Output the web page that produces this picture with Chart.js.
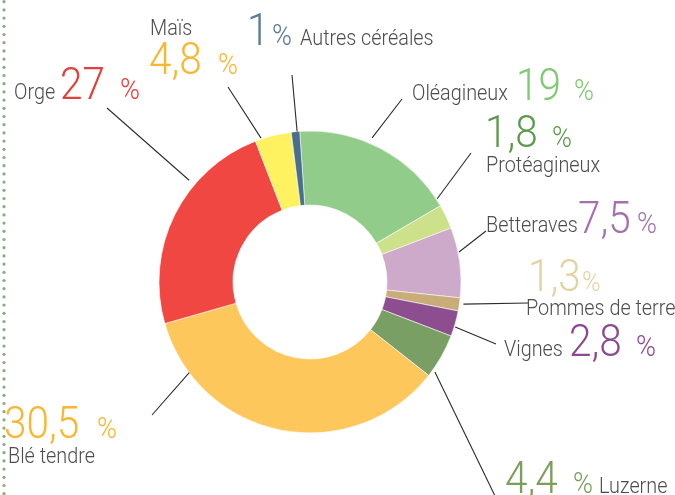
<!DOCTYPE html>
<html>
<head>
<meta charset="utf-8">
<title>Assolement</title>
<script src="https://cdn.jsdelivr.net/npm/chart.js@4.4.1/dist/chart.umd.min.js"></script>
<style>
    html, body { margin: 0; padding: 0; background: #fff; }
    #wrap { width: 675px; height: 495px; }
</style>
</head>
<body>
<div id="wrap"><canvas id="crops" width="675" height="495"></canvas></div>
<script>
'use strict';

// cultures, dans l'ordre horaire depuis le haut
var categories = ['Oléagineux', 'Protéagineux', 'Betteraves', 'Pommes de terre', 'Vignes',
    'Luzerne', 'Blé tendre', 'Orge', 'Maïs', 'Autres céréales'];
// part affichée (texte)
var shownValues = ['19', '1,8', '7,5', '1,3', '2,8', '4,4', '30,5', '27', '4,8', '1'];
var sliceShares = [17.7, 2.6, 7.5, 1.4, 2.75, 4.8, 35, 23.6, 3.9, 0.9];

var sliceColors = ['#92cc8b', '#cde08a', '#cdaac9', '#c9ad78', '#8c4e8f',
    '#7a9f64', '#fec75b', '#f04743', '#fff260', '#4a6f8c'];
var valueColors = ['#7fca72', '#5c9a4c', '#a470b0', '#e2d2a4', '#8b4a8f',
    '#7c9e5c', '#f9b630', '#e2403d', '#f9b630', '#5b7a96'];
var GREY = '#4d4d4d';

// position des textes et des traits de rappel (x, ligne de base)
// ang : angle du départ du trait (degrés, sens horaire depuis le haut), gap : écart au bord
var labelLayout = [
    {ang: 23.3, gap: 6, end: [402, 99], name: [412, 100], val: [516, 100], pct: [574, 100]},
    {ang: 56.8, gap: 1, end: [471, 153], name: [486, 172], val: [485, 147], pct: [552, 147]},
    {ang: 78.6, gap: 1, end: [486, 231], name: [486, 232], val: [578, 233], pct: [637, 233]},
    {ang: 98.2, gap: 4, end: [528, 303], name: [526, 315], val: [528, 291], pct: [582, 291], pctSize: 28},
    {ang: 107.2, gap: 1, end: [496, 344], name: [504, 356], val: [569, 356], pct: [636, 356]},
    {ang: 125.8, gap: 3, end: [497, 500], name: [599, 493], val: [505, 493], pct: [573, 493]},
    {ang: 233.1, gap: 0, end: [152, 415], name: [8, 463], val: [4, 438], pct: [97, 438]},
    {ang: -49.9, gap: 7, end: [107, 108], name: [14, 99], val: [60, 99], pct: [120, 99]},
    {ang: -18.8, gap: 1, end: [228, 87], name: [150, 35], val: [149, 74], pct: [218, 74]},
    {ang: -4.9, gap: 0, end: [292, 75], name: [300, 45], val: [247, 45], pct: [272, 45]}
];

/**
 * Texte fin et un peu étroit
 */
function drawText(ctx, str, x, y, size, color) {
    ctx.save();
    ctx.translate(x, y);
    ctx.scale(0.9, 1);
    ctx.font = '300 ' + size + 'px Roboto';
    ctx.fillStyle = color;
    ctx.textBaseline = 'alphabetic';
    ctx.textAlign = 'left';
    ctx.fillText(str, 0, 0);
    ctx.restore();
}

var dottedRule = {
    id: 'dottedRule',
    beforeDraw: function (chart) {
        var ctx = chart.ctx;
        ctx.save();
        ctx.fillStyle = '#8daa7a';
        for (var y = 1.7; y < chart.height; y += 8.2) {
            ctx.beginPath();
            ctx.arc(4, y, 1.6, 0, Math.PI * 2);
            ctx.fill();
        }
        ctx.restore();
    }
};

var calloutLabels = {
    id: 'calloutLabels',
    afterDatasetsDraw: function (chart) {
        var ctx = chart.ctx;
        var arcs = chart.getDatasetMeta(0).data;

        arcs.forEach(function (arc, i) {
            var lay = labelLayout[i];
            var p = arc.getProps(['x', 'y', 'outerRadius']);
            var a = lay.ang * Math.PI / 180;
            var r = p.outerRadius + lay.gap;

            ctx.save();
            ctx.strokeStyle = '#2b2b2b';
            ctx.lineWidth = 1.1;
            ctx.beginPath();
            ctx.moveTo(p.x + r * Math.sin(a), p.y - r * Math.cos(a));
            ctx.lineTo(lay.end[0], lay.end[1]);
            ctx.stroke();
            ctx.restore();

            drawText(ctx, categories[i], lay.name[0], lay.name[1], 22, GREY);
            drawText(ctx, shownValues[i], lay.val[0], lay.val[1], 45, valueColors[i]);
            drawText(ctx, '%', lay.pct[0], lay.pct[1], lay.pctSize || 30, valueColors[i]);
        });
    }
};

new Chart(document.getElementById('crops'), {
    type: 'doughnut',
    data: {
        labels: categories,
        datasets: [{
            data: sliceShares,
            backgroundColor: sliceColors,
            borderColor: 'rgba(255,255,255,0.7)',
            borderWidth: 0.8,
            hoverOffset: 0
        }]
    },
    options: {
        responsive: false,
        animation: false,
        rotation: -3.9,
        radius: 151,
        cutout: '51%',
        layout: {padding: {left: 100, right: 155, top: 80, bottom: 11}},
        events: [],
        plugins: {
            legend: {display: false},
            tooltip: {enabled: false}
        }
    },
    plugins: [dottedRule, calloutLabels]
});
</script>
</body>
</html>
